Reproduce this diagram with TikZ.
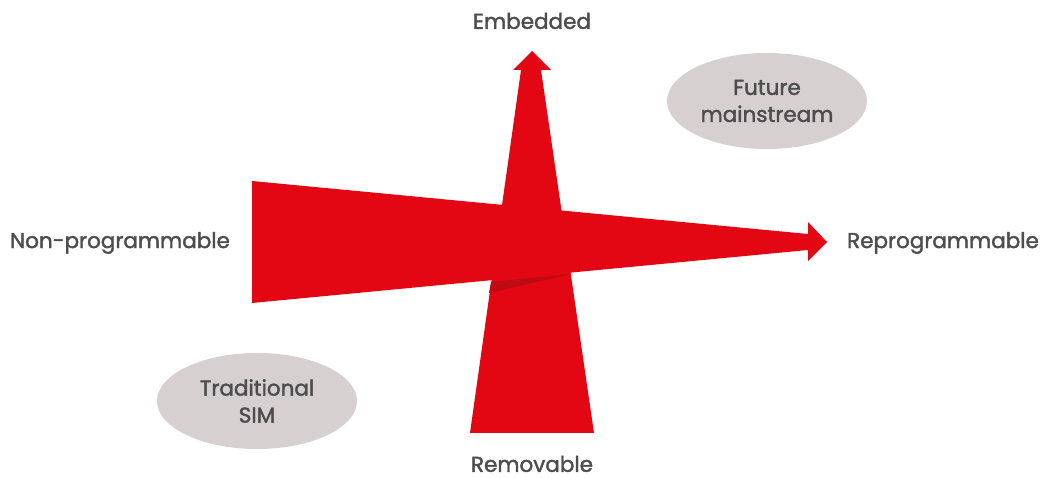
\documentclass[tikz,border=0pt]{standalone}
\usepackage{fontspec}
\newfontfamily\labelfont{Poppins}[FakeBold=1.8]
\usetikzlibrary{shapes.geometric}
\definecolor{simred}{RGB}{227,6,19}
\definecolor{simshade}{RGB}{190,12,18}
\definecolor{simgrey}{RGB}{214,209,208}
\definecolor{simtext}{RGB}{77,77,79}

\begin{document}
\begin{tikzpicture}[x=1pt,y=-1pt,
  axislabel/.style={text=simtext,font=\labelfont\fontsize{21.5}{24}\selectfont},
  bubble/.style={ellipse,fill=simgrey,minimum width=200pt,minimum height=96pt,
    text=simtext,align=center,font=\labelfont\fontsize{21.5}{27}\selectfont}]
\useasboundingbox (0,0) rectangle (1045,478);

% Vertical arrow (removable -> embedded)
\fill[simred] (470,433) -- (521,70) -- (513,70) -- (532,51) -- (551,70)
  -- (541,70) -- (594,433) -- cycle;

% Horizontal arrow (non-programmable -> reprogrammable)
\fill[simred] (252,181) -- (808,234) -- (808,222) -- (827,242) -- (808,261)
  -- (808,250) -- (252,303) -- cycle;

% Shadow where the bars cross
\fill[simshade] (491,282) -- (571,274) -- (489,293) -- cycle;

% Axis labels
\node[axislabel] (embedded) at (532,21) {Embedded};
\node[axislabel] (removable) at (532,464) {Removable};
\node[axislabel] (nonprog) at (120,243) {Non-programmable};
\node[axislabel] (reprog) at (943,243) {Reprogrammable};

% Quadrant bubbles
\node[bubble] (future) at (767,101) {Future\\mainstream};
\node[bubble] (traditional) at (257,401) {Traditional\\SIM};
\end{tikzpicture}
\end{document}
